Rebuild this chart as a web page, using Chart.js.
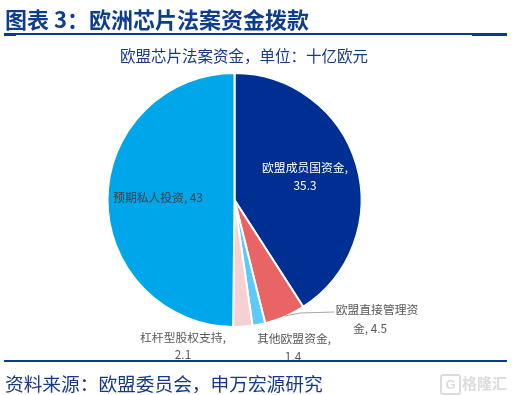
<!DOCTYPE html>
<html>
<head>
<meta charset="utf-8">
<script src="https://cdn.jsdelivr.net/npm/chart.js@4"></script>
<style>
  html, body { margin: 0; padding: 0; background: #fff; }
  body { width: 514px; height: 395px; position: relative; overflow: hidden; font-family: "Noto Sans CJK SC", sans-serif; }
  #wrap { position: absolute; left: 0; top: 0; width: 514px; height: 395px; }
  .rule { position: absolute; left: 4px; width: 503px; height: 2px; background: #0b3a8c; }
  .txt { position: absolute; white-space: nowrap; color: #17398a; }
  #title { left: 5px; top: 5px; font-size: 22px; line-height: 26px; font-weight: 700; color: #0f3d8e; }
  #subtitle { left: 120px; top: 45px; font-size: 15.5px; line-height: 20px; }
  #source { left: 5px; top: 370px; font-size: 18.7px; line-height: 26px; }
  #mark { left: 462px; top: 373px; font-size: 15px; line-height: 20px; color: #dcdcdc; font-weight: 700; }
  #logo { left: 440px; top: 374px; width: 17px; height: 17px; border: 2px solid #dcdcdc; border-radius: 3px; font-size: 13px; line-height: 17px; text-align: center; color: #dcdcdc; font-weight: 700; font-family: "Liberation Sans", sans-serif; }
</style>
</head>
<body>
<div id="wrap"><canvas id="pie" width="514" height="395"></canvas></div>
<div class="txt" id="title">图表 3：欧洲芯片法案资金拨款</div>
<div class="rule" style="top:33px"></div>
<div class="rule" style="top:34px;left:4px;width:12px;height:2px"></div>
<div class="rule" style="top:34px;left:472px;width:35px;height:2px"></div>
<div class="txt" id="subtitle">欧盟芯片法案资金，单位：十亿欧元</div>
<div class="rule" style="top:360px"></div>
<div class="txt" id="source">资料来源：欧盟委员会，申万宏源研究</div>
<div class="txt" id="logo">G</div>
<div class="txt" id="mark">格隆汇</div>
<script>
// 数据
const categories = ["欧盟成员国资金", "欧盟直接管理资金", "其他欧盟资金", "杠杆型股权支持", "预期私人投资"];
const values = [35.3, 4.5, 1.4, 2.1, 43];
const colors = ["#002f94", "#e96465", "#5ccbf9", "#f7d0d3", "#00a6ea"];
const labelLines = [
  [["欧盟成员国资金,", 305, 168, "#ffffff"], ["35.3", 305, 186, "#ffffff"]],
  [["欧盟直接管理资", 377, 310, "#595959"], ["金, 4.5", 370, 329, "#595959"]],
  [["其他欧盟资金,", 294, 339, "#595959"], ["1.4", 293, 357, "#595959"]],
  [["杠杆型股权支持,", 183, 338, "#595959"], ["2.1", 183, 355, "#595959"]],
  [["预期私人投资, 43", 158, 198, "#404040"]]
];

// 标签和引线
const labelPlugin = {
  id: "pieLabels",
  afterDatasetsDraw(chart) {
    const ctx = chart.ctx;
    ctx.save();
    ctx.strokeStyle = "#a6a6a6";
    ctx.lineWidth = 1;
    ctx.beginPath();
    ctx.moveTo(285, 316);
    ctx.lineTo(300, 313);
    ctx.lineTo(334, 312);
    ctx.stroke();
    ctx.font = "11.8px 'Noto Sans CJK SC'";
    ctx.textAlign = "center";
    ctx.textBaseline = "middle";
    labelLines.forEach(lines => {
      lines.forEach(l => {
        ctx.fillStyle = l[3];
        ctx.fillText(l[0], l[1], l[2]);
      });
    });
    ctx.restore();
  }
};

new Chart(document.getElementById("pie").getContext("2d"), {
  type: "pie",
  data: {
    labels: categories,
    datasets: [{
      data: values,
      backgroundColor: colors,
      borderColor: "#ffffff",
      borderWidth: 2,
      hoverOffset: 0
    }]
  },
  options: {
    responsive: false,
    animation: false,
    layout: { padding: { left: 106, right: 151, top: 72, bottom: 67 } },
    plugins: { legend: { display: false }, tooltip: { enabled: false } }
  },
  plugins: [labelPlugin]
});
</script>
</body>
</html>
